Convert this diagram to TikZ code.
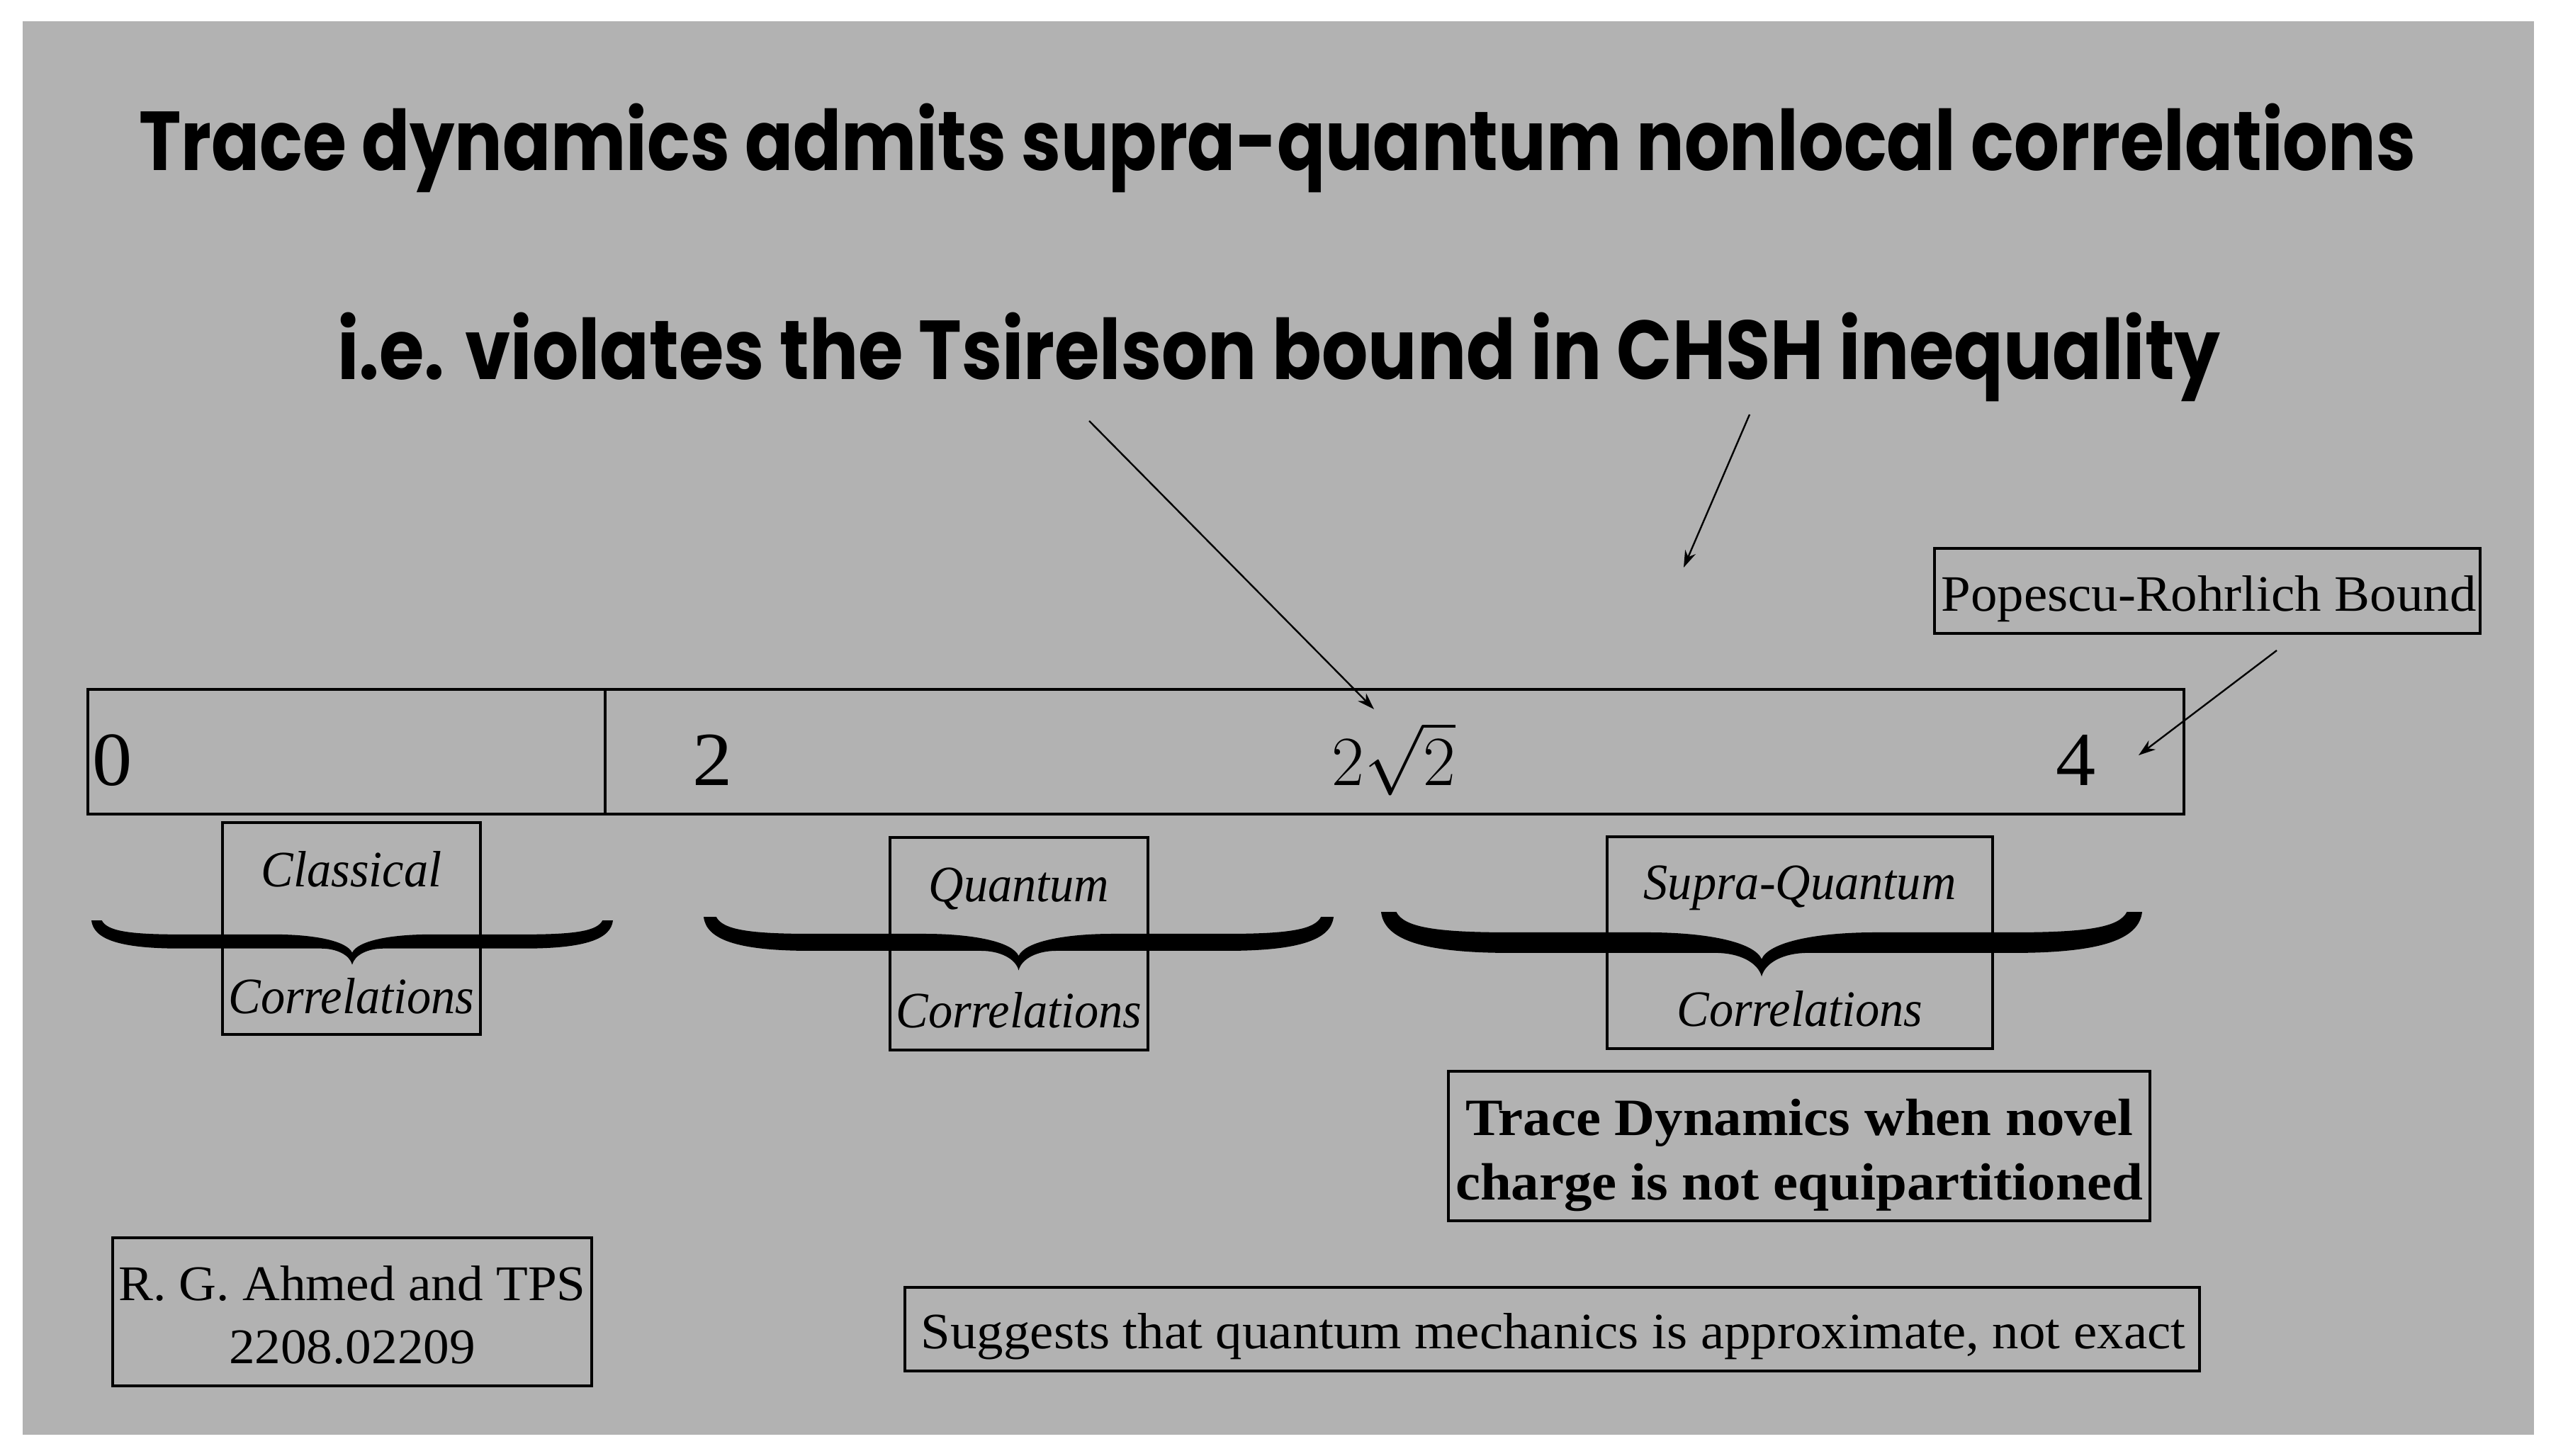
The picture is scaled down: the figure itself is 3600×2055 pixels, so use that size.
\documentclass[tikz,border=0pt]{standalone}
\usepackage{fontspec}
\setmainfont{Liberation Serif}[FakeStretch=1.04]
\newfontfamily\itfam[FakeStretch=0.95]{Liberation Serif}
\newfontfamily\bfam[FakeStretch=1.065]{Liberation Serif}
\newfontfamily\titlefont[FakeStretch=0.85]{Poppins}
\newfontfamily\titlefontB[FakeStretch=0.87]{Poppins}
\usetikzlibrary{arrows.meta}
\definecolor{bg}{RGB}{178,178,178}
\newcommand{\fillbrace}[3]{%
  \begin{scope}[shift={(#1,#2)}, xscale=#3, yscale=#3]
    \fill[black] (0,0) .. controls (0.004,0.035) and (0.05,0.054) .. (0.17,0.054)
      -- (0.44,0.054) .. controls (0.47,0.054) and (0.495,0.066) .. (0.5,0.085)
      .. controls (0.505,0.066) and (0.53,0.054) .. (0.56,0.054)
      -- (0.83,0.054) .. controls (0.95,0.054) and (0.996,0.035) .. (1,0)
      -- (0.98,0)
      .. controls (0.97,0.02) and (0.93,0.027) .. (0.83,0.027)
      -- (0.65,0.027) .. controls (0.57,0.027) and (0.51,0.04) .. (0.5,0.062)
      .. controls (0.49,0.04) and (0.43,0.027) .. (0.35,0.027)
      -- (0.17,0.027) .. controls (0.07,0.027) and (0.03,0.02) .. (0.02,0)
      -- cycle;
  \end{scope}}
\tikzset{
  boxst/.style={draw, line width=0.8pt, inner sep=0pt},
  txt/.style={inner sep=0pt, anchor=base, font=\fontsize{18}{22}\selectfont},
  atxt/.style={inner sep=0pt, anchor=base, font=\fontsize{17.6}{22}\selectfont},
  itxt/.style={inner sep=0pt, anchor=base, font=\itfam\fontsize{18}{22}\selectfont\itshape},
  btxt/.style={inner sep=0pt, anchor=base, font=\bfam\fontsize{18.5}{22}\selectfont\bfseries},
  numtxt/.style={inner sep=0pt, anchor=base, font=\fontsize{27}{30}\selectfont},
  sqtxt/.style={inner sep=0pt, anchor=base, font=\fontsize{29}{32}\selectfont},
  ttl/.style={inner sep=0pt, anchor=base, font=\titlefont\bfseries\fontsize{29.5}{32}\selectfont},
  ttlb/.style={inner sep=0pt, anchor=base, font=\titlefontB\bfseries\fontsize{29.5}{32}\selectfont},
  arr/.style={line width=0.6pt, -{Stealth[length=6pt,width=4pt]}}
}
\begin{document}
\begin{tikzpicture}[x=0.25pt,y=-0.25pt]
\useasboundingbox (0,0) rectangle (3600,2055);
\fill[white] (0,0) rectangle (3600,2055);
\fill[bg] (32,30) rectangle (3576,2025);

% titles
\node[ttl] (t1) at (1803,240) {Trace dynamics admits supra-quantum nonlocal correlations};
\node[ttlb] (t2) at (1805,535) {i.e. violates the Tsirelson bound in CHSH inequality};

% bar
\node[boxst, line width=1pt, minimum width=739.5pt, minimum height=44pt] (bar) at (1603,1061) {};
\coordinate (dtop) at (854,973);
\coordinate (dbot) at (854,1149);
\draw[line width=1pt] (dtop) -- (dbot);
\node[numtxt] (n0) at (159,1108) {0};
\node[numtxt] (n2) at (1006,1108) {2};
\node[sqtxt] (n22) at (1967,1108) {$2\sqrt{2}$};
\node[numtxt] (n4) at (2930,1108) {4};

% Popescu
\node[boxst, minimum width=192.5pt, minimum height=30pt] (prb) at (3115,834) {};
\node[txt] (prt) at (3117,862) {Popescu-Rohrlich Bound};

% arrows
\coordinate (a1s) at (1537,594);
\coordinate (a1e) at (1939,1001);
\coordinate (a2s) at (2469,585);
\coordinate (a2e) at (2376,801);
\coordinate (a3s) at (3213,918);
\coordinate (a3e) at (3018,1066);
\draw[arr] (a1s) -- (a1e);
\draw[arr] (a2s) -- (a2e);
\draw[arr] (a3s) -- (a3e);

% boxes under braces
\node[boxst, minimum width=91pt, minimum height=74.75pt] (cbox) at (496,1310.5) {};
\node[itxt] (c1) at (496,1251) {Classical};
\node[itxt] (c2) at (496,1430) {Correlations};

\node[boxst, minimum width=91pt, minimum height=75pt] (qbox) at (1438,1332) {};
\node[itxt] (q1) at (1438,1272) {Quantum};
\node[itxt] (q2) at (1438,1450) {Correlations};

\node[boxst, minimum width=136pt, minimum height=74.75pt] (sbox) at (2540,1330.5) {};
\node[itxt] (s1) at (2540,1269) {Supra-Quantum};
\node[itxt] (s2) at (2540,1448) {Correlations};

% braces
\fillbrace{129}{1299}{736}
\fillbrace{993}{1294}{889}
\fillbrace{1949}{1287}{1074}

% trace dynamics box
\node[boxst, minimum width=247.5pt, minimum height=52.75pt] (tbox) at (2539,1617.5) {};
\node[btxt] (tb1) at (2539,1602) {Trace Dynamics when novel};
\node[btxt] (tb2) at (2539,1693) {charge is not equipartitioned};

% suggests box
\node[boxst, minimum width=456.75pt, minimum height=29.5pt] (gbox) at (2190.5,1876) {};
\node[txt] (gt) at (2192,1903) {Suggests that quantum mechanics is approximate, not exact};

% authors
\node[boxst, minimum width=169pt, minimum height=52.25pt] (abox) at (497,1851.5) {};
\node[atxt] (at1) at (497,1835) {R. G. Ahmed and TPS};
\node[atxt] (at2) at (497,1924) {2208.02209};
\end{tikzpicture}
\end{document}
